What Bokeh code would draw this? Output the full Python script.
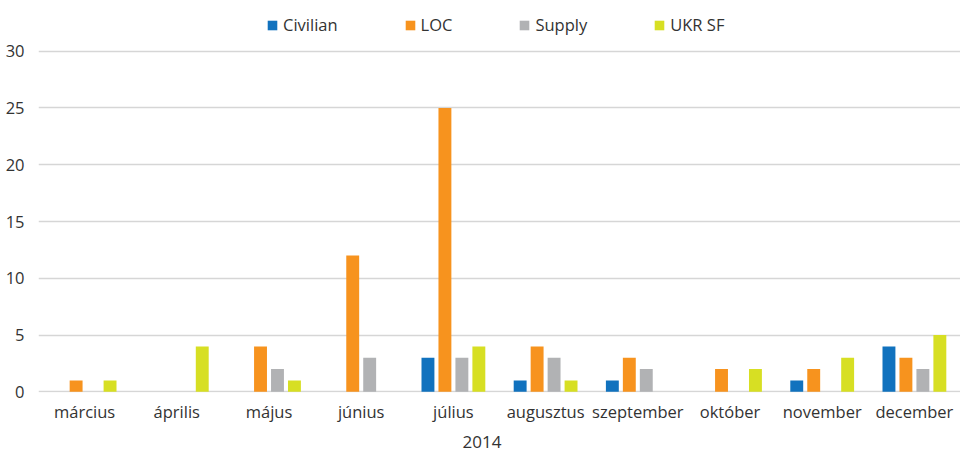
from bokeh.plotting import figure
from bokeh.models import ColumnDataSource, Legend, LegendItem, SingleIntervalTicker, FactorRange, Range1d, Title
from bokeh.transform import dodge
from bokeh.embed import file_html
from bokeh.resources import INLINE

months = ["március", "április", "május", "június", "július",
          "augusztus", "szeptember", "október", "november", "december"]
civilian = [0, 0, 0, 0, 3, 1, 1, 0, 1, 4]
loc = [1, 0, 4, 12, 25, 4, 3, 2, 2, 3]
supply = [0, 0, 2, 3, 3, 3, 2, 0, 0, 2]
ukr_sf = [1, 4, 1, 0, 4, 1, 0, 2, 3, 5]
series_names = ["Civilian", "LOC", "Supply", "UKR SF"]
axis_title = "2014"

colors = ["#1172BE", "#F7931E", "#B1B2B4", "#D7DF23"]
FONT = "Open Sans"
TXT = "#333333"

src = ColumnDataSource(dict(month=months, civ=civilian, loc=loc, sup=supply, ukr=ukr_sf))

# frame covers the top of the canvas so the legend can sit inside it
p = figure(width=960, height=455, x_range=FactorRange(*months), y_range=Range1d(-0.06, 34.465),
           output_backend="svg", toolbar_location=None,
           min_border_left=38, min_border_right=0, min_border_top=0, min_border_bottom=63)
p.outline_line_color = None
p.background_fill_color = "white"

offsets = [-0.276, -0.092, 0.092, 0.276]
renderers = []
for col, off, c in zip(["civ", "loc", "sup", "ukr"], offsets, colors):
    r = p.vbar(x=dodge("month", off, range=p.x_range), top=col, width=0.14,
               source=src, fill_color=c, line_color=None)
    renderers.append(r)

legend = Legend(items=[LegendItem(label=n, renderers=[r]) for n, r in zip(series_names, renderers)],
                orientation="horizontal", location=(228, 356),
                label_text_font=FONT, label_text_font_size="16.5px", label_text_color=TXT,
                glyph_width=12, glyph_height=12, label_standoff=5, spacing=66,
                padding=5, margin=0, border_line_color=None, background_fill_alpha=0)
p.add_layout(legend, "center")

p.xgrid.grid_line_color = None
p.ygrid.grid_line_color = "#d6d6d6"
p.ygrid.grid_line_width = 1.5

p.yaxis.ticker = SingleIntervalTicker(interval=5)
for ax in (p.xaxis[0], p.yaxis[0]):
    ax.axis_line_color = None
    ax.major_tick_line_color = None
    ax.minor_tick_line_color = None
    ax.major_tick_out = 0
    ax.major_tick_in = 0
    ax.major_label_text_font = FONT
    ax.major_label_text_font_size = "16.5px"
    ax.major_label_text_color = TXT
p.yaxis.major_label_standoff = 10
p.xaxis.major_label_standoff = 7

p.add_layout(Title(text=axis_title, align="left", offset=424, text_font=FONT,
                   text_font_size="17px", text_font_style="normal", text_color=TXT,
                   standoff=16), "below")

open("out.html", "w").write(file_html(p, INLINE))
